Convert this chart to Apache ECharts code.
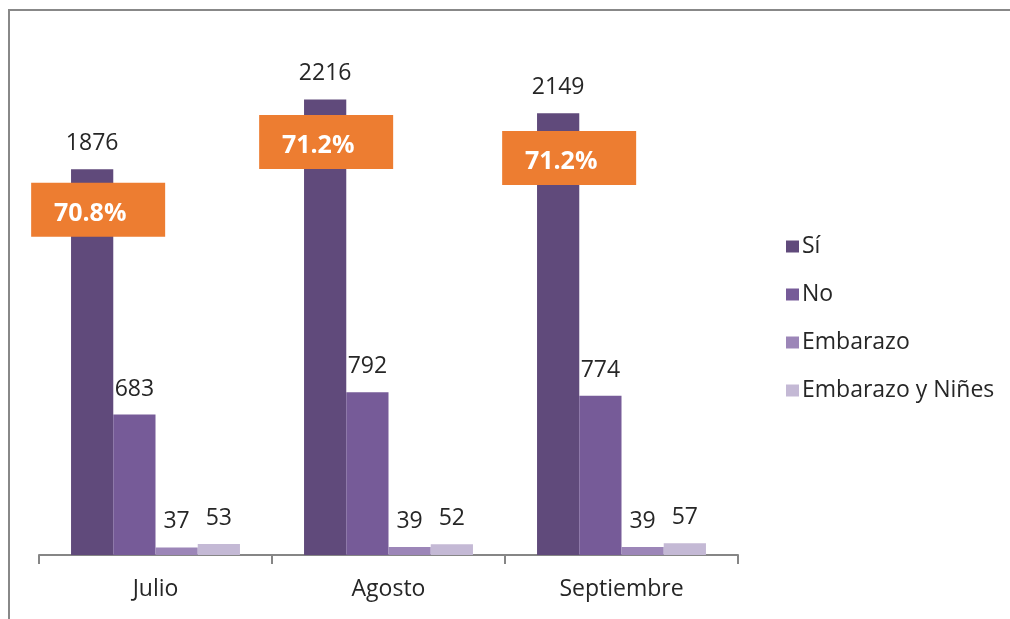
<!DOCTYPE html>
<html>
<head>
<meta charset="utf-8">
<script src="https://cdn.jsdelivr.net/npm/echarts@6/dist/echarts.min.js"></script>
<style>
  html, body { margin: 0; padding: 0; background: #fff; }
  #main { width: 1010px; height: 619px; }
</style>
</head>
<body>
<div id="main"></div>
<script>
var months = ['Julio', 'Agosto', 'Septiembre'];
var siValues = [1876, 2216, 2149];
var noValues = [683, 792, 774];
var embValues = [37, 39, 39];
var embNinesValues = [53, 52, 57];
// orange callouts over the "Sí" bars
var pctLabels = ['70.8%', '71.2%', '71.2%'];
var pctLevel = [1679, 2009, 1931];
var pctShift = [6, 1, 11];

var font = '"Open Sans", sans-serif';
var chart = echarts.init(document.getElementById('main'));

function barSeries(name, data, color) {
    return {
        name: name,
        type: 'bar',
        data: data,
        barGap: '0%',
        barCategoryGap: '27.5%',
        itemStyle: { color: color },
        label: {
            show: true,
            position: 'top',
            distance: 14,
            fontFamily: font,
            fontSize: 23,
            color: '#262626'
        }
    };
}

var si = barSeries('Sí', siValues, '#604A7B');
si.markPoint = {
    symbol: 'rect',
    symbolSize: [134, 54],
    itemStyle: { color: '#ED7D31' },
    label: {
        show: true,
        color: '#fff',
        fontFamily: font,
        fontWeight: 'bold',
        fontSize: 25,
        offset: [-8, 4],
        formatter: function (p) { return p.name; }
    },
    data: months.map(function (m, i) {
        return {
            name: pctLabels[i],
            coord: [m, pctLevel[i]],
            symbolOffset: [pctShift[i], 0]
        };
    })
};

chart.setOption({
    animation: false,
    graphic: [{
        type: 'rect',
        shape: { x: 9, y: 10, width: 1010, height: 620 },
        style: { fill: 'none', stroke: '#888', lineWidth: 2 },
        z: -1
    }],
    grid: { left: 39, right: 272, top: 41, bottom: 64 },
    legend: {
        orient: 'vertical',
        left: 781,
        top: 230,
        itemWidth: 13,
        itemHeight: 12,
        itemGap: 25,
        icon: 'rect',
        textStyle: { fontFamily: font, fontSize: 23, color: '#262626', padding: [0, 0, 0, -2] },
        data: ['Sí', 'No', 'Embarazo', 'Embarazo y Niñes']
    },
    xAxis: {
        type: 'category',
        data: months,
        axisLine: { lineStyle: { color: '#868686', width: 2 } },
        axisTick: { show: true, length: 9, lineStyle: { color: '#868686', width: 2 } },
        axisLabel: { fontFamily: font, fontSize: 23, color: '#262626', margin: 23 }
    },
    yAxis: {
        type: 'value',
        min: 0,
        max: 2500,
        show: false,
        splitLine: { show: false }
    },
    series: [
        si,
        barSeries('No', noValues, '#765B98'),
        barSeries('Embarazo', embValues, '#9C86B8'),
        barSeries('Embarazo y Niñes', embNinesValues, '#C4B9D5')
    ]
});
</script>
</body>
</html>
